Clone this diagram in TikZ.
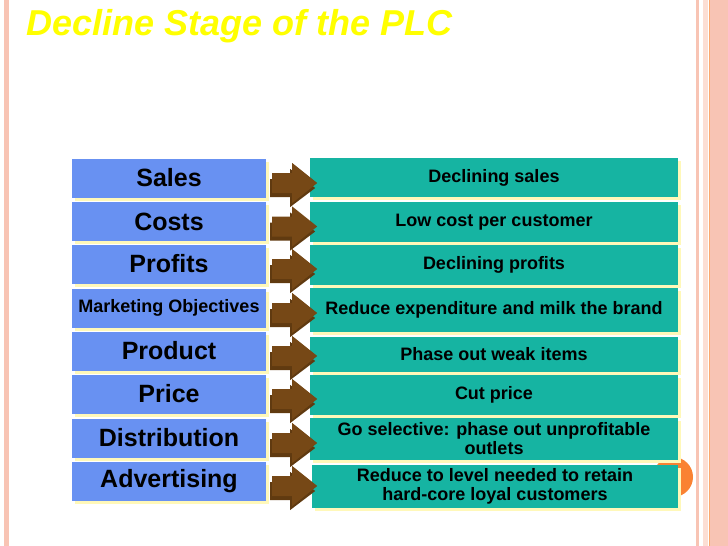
\documentclass[tikz,border=0pt]{standalone}
\usepackage{fontspec}
\setmainfont{Liberation Sans}
\usetikzlibrary{shadows}

\definecolor{titleyellow}{RGB}{255,255,0}
\definecolor{boxblue}{RGB}{104,145,242}
\definecolor{boxteal}{RGB}{22,180,162}
\definecolor{paleshadow}{RGB}{255,248,185}
\definecolor{arrowbrown}{RGB}{118,72,22}
\definecolor{arrowdark}{RGB}{96,58,16}
\definecolor{borderpink}{RGB}{248,196,180}
\definecolor{palepink}{RGB}{252,222,212}
\definecolor{themeorange}{RGB}{250,130,50}

\newcommand{\plcarrow}[1]{%
  \begin{scope}[shift={(#1.east)}]
   \fill[arrowdark] (4,1)--(24,1)--(24,-9)--(49,10)--(24,29)--(24,19)--(4,19)--cycle;
   \fill[arrowbrown] (6,-5)--(26,-5)--(26,-15)--(51,5)--(26,25)--(26,15)--(6,15)--cycle;
  \end{scope}}

\begin{document}
\begin{tikzpicture}[x=1pt,y=-1pt,
  lbox/.style={fill=boxblue, minimum width=194pt, minimum height=39pt, inner sep=0pt,
    font=\bfseries\fontsize{25}{27}\selectfont,
    drop shadow={shadow xshift=3pt, shadow yshift=-3pt, fill=paleshadow, opacity=1}},
  rbox/.style={fill=boxteal, minimum width=368pt, inner sep=0pt, align=center,
    font=\bfseries\fontsize{18}{19}\selectfont,
    drop shadow={shadow xshift=3pt, shadow yshift=-3pt, fill=paleshadow, opacity=1}}]
 \useasboundingbox (0,0) rectangle (728,546);
 \fill[white] (0,0) rectangle (728,546);
 \fill[borderpink] (4,0) rectangle (9,546);
 \fill[borderpink] (696,0) rectangle (699,546);
 \fill[palepink] (703,0) rectangle (708,546);
 \fill[borderpink] (710,0) rectangle (728,546);
 \draw[themeorange!70, line width=1pt] (709.5,0) -- (709.5,546);

 \node[anchor=base west, text=titleyellow, font=\bfseries\itshape\fontsize{36}{40}\selectfont] (title) at (23,35) {Decline Stage of the PLC};

 \fill[themeorange] (673,477) circle (20);

 \node[lbox] (sales) at (169,178) {Sales};
 \node[lbox] (costs) at (169,221.5) {Costs};
 \node[lbox] (profits) at (169,264) {Profits};
 \node[lbox, font=\bfseries\fontsize{18}{19}\selectfont] (mobj) at (169,308) {Marketing Objectives};
 \node[lbox] (product) at (169,351) {Product};
 \node[lbox] (price) at (169,394) {Price};
 \node[lbox] (distr) at (169,438) {Distribution};
 \node[lbox] (advert) at (169,481) {Advertising};

 \node[rbox, minimum height=39pt] (dsales) at (494,177.5) {Declining sales};
 \node[rbox, minimum height=40pt] (lowcost) at (494,222) {Low cost per customer};
 \node[rbox, minimum height=40pt] (dprofits) at (494,265) {Declining profits};
 \node[rbox, minimum height=44pt] (milk) at (494,310) {Reduce expenditure and milk the brand};
 \node[rbox, minimum height=35pt] (phase) at (494,354.5) {Phase out weak items};
 \node[rbox, minimum height=40pt] (cut) at (494,395) {Cut price};
 \node[rbox, minimum height=42pt] (select) at (494,439) {Go selective: phase out unprofitable\\outlets};
 \node[rbox, minimum height=43pt, minimum width=366pt] (retain) at (495,486.5) {Reduce to level needed to retain\\hard-core loyal customers};

 \plcarrow{sales}
 \plcarrow{costs}
 \plcarrow{profits}
 \plcarrow{mobj}
 \plcarrow{product}
 \plcarrow{price}
 \plcarrow{distr}
 \plcarrow{advert}
\end{tikzpicture}
\end{document}
